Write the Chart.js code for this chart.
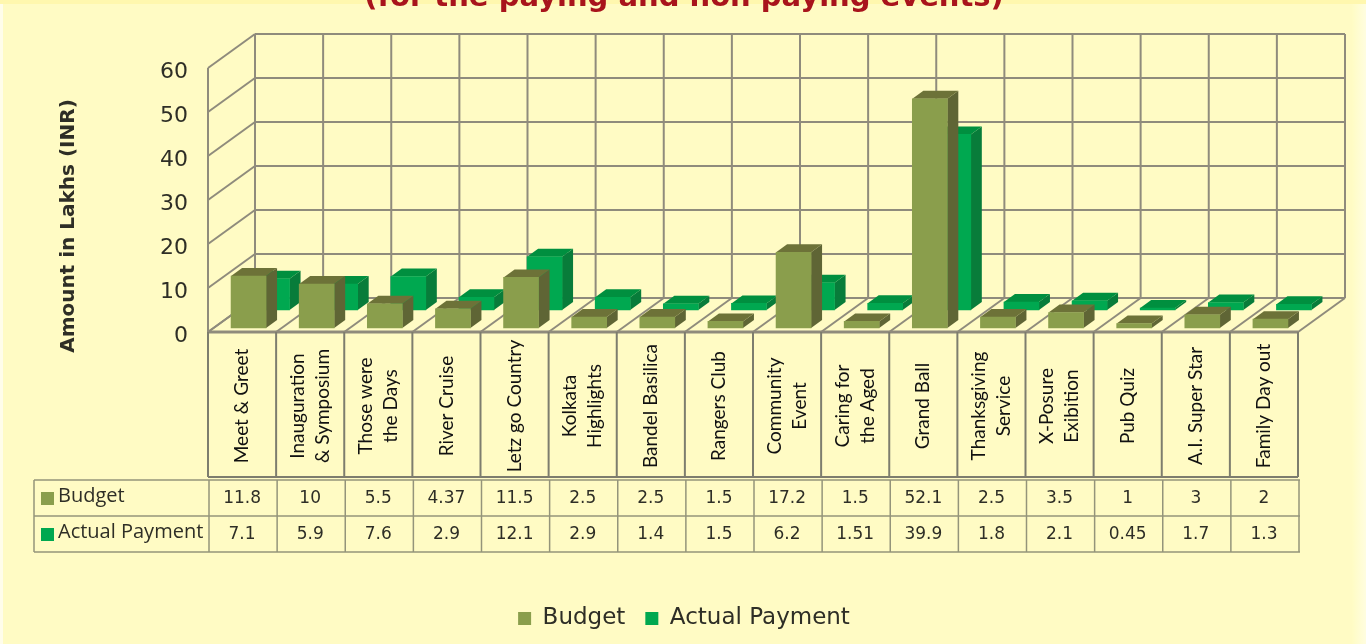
<!DOCTYPE html>
<html>
<head>
<meta charset="utf-8">
<title>Budget vs Actual Payment</title>
<script src="https://cdn.jsdelivr.net/npm/chart.js@4"></script>
<style>
  html, body { margin: 0; padding: 0; overflow: hidden; }
  body {
    background:
      linear-gradient(#fff7ae, #fff7ae) top left / 100% 4px no-repeat,
      linear-gradient(#fffdea, #fffdea) top left / 3px 100% no-repeat,
      linear-gradient(90deg, #fffcc4, #fffde0) top right / 14px 100% no-repeat,
      #fffbc4;
  }
  #grafica { display: block; }
</style>
</head>
<body>
<canvas id="grafica" width="1366" height="644"></canvas>
<script>
const categories = [
    ['Meet & Greet'], ['Inauguration', '& Symposium'], ['Those were', 'the Days'], ['River Cruise'],
    ['Letz go Country'], ['Kolkata', 'Highlights'], ['Bandel Basilica'], ['Rangers Club'],
    ['Community', 'Event'], ['Caring for', 'the Aged'], ['Grand Ball'], ['Thanksgiving', 'Service'],
    ['X-Posure', 'Exibition'], ['Pub Quiz'], ['A.I. Super Star'], ['Family Day out']
];
const budget = [11.8, 10, 5.5, 4.37, 11.5, 2.5, 2.5, 1.5, 17.2, 1.5, 52.1, 2.5, 3.5, 1, 3, 2];
const actualPayment = [7.1, 5.9, 7.6, 2.9, 12.1, 2.9, 1.4, 1.5, 6.2, 1.51, 39.9, 1.8, 2.1, 0.45, 1.7, 1.3];

const lineCol = '#8f8b7c';
const textCol = '#2e2e26';
const wallDepth = { x: 47, y: -34 };
const barDepth = { x: 11, y: -8 };

// colours for the fake 3d sides, one entry per dataset
const looks = [
    { shift: { x: 6.5, y: -4 }, top: '#6d7238', side: '#5f6535' },
    { shift: { x: 30, y: -22 }, top: '#008f3f', side: '#087c3a' }
];

function line(ctx, x1, y1, x2, y2) {
    ctx.beginPath();
    ctx.moveTo(x1, y1);
    ctx.lineTo(x2, y2);
    ctx.stroke();
}

function poly(ctx, pts, col) {
    ctx.fillStyle = col;
    ctx.beginPath();
    pts.forEach((p, i) => i ? ctx.lineTo(p[0], p[1]) : ctx.moveTo(p[0], p[1]));
    ctx.closePath();
    ctx.fill();
}

const walls3d = {
    id: 'walls3d',
    beforeDatasetsDraw(chart) {
        const { ctx, chartArea: a, scales: { y } } = chart;
        const bw = (a.right - a.left) / categories.length;
        ctx.save();
        ctx.strokeStyle = lineCol;
        ctx.lineWidth = 2;
        y.ticks.forEach(t => {
            const py = y.getPixelForValue(t.value);
            line(ctx, a.left, py, a.left + wallDepth.x, py + wallDepth.y);
            line(ctx, a.left + wallDepth.x, py + wallDepth.y, a.right + wallDepth.x, py + wallDepth.y);
        });
        for (let i = 0; i <= categories.length; i++) {
            const px = a.left + i * bw;
            line(ctx, px + wallDepth.x, a.top + wallDepth.y, px + wallDepth.x, a.bottom + wallDepth.y);
            line(ctx, px, a.bottom, px + wallDepth.x, a.bottom + wallDepth.y);
        }
        line(ctx, a.left, a.top, a.left, a.bottom);
        ctx.lineWidth = 3;
        line(ctx, a.left, a.bottom, a.right, a.bottom);
        ctx.restore();
    },
    beforeDatasetDraw(chart, args) {
        const ctx = chart.ctx;
        const look = looks[args.index];
        ctx.save();
        ctx.translate(look.shift.x, look.shift.y);
        args.meta.data.forEach(bar => {
            const l = bar.x - bar.width / 2;
            const r = bar.x + bar.width / 2;
            poly(ctx, [[r, bar.y], [r + barDepth.x, bar.y + barDepth.y], [r + barDepth.x, bar.base + barDepth.y], [r, bar.base]], look.side);
            poly(ctx, [[l, bar.y], [l + barDepth.x, bar.y + barDepth.y], [r + barDepth.x, bar.y + barDepth.y], [r, bar.y]], look.top);
        });
    },
    afterDatasetDraw(chart) {
        chart.ctx.restore();
    },
    afterDraw(chart) {
        const { ctx, chartArea: a, scales: { x } } = chart;
        const bw = (a.right - a.left) / categories.length;
        ctx.save();

        // heading, cut off by the top of the picture in the original
        ctx.fillStyle = '#a8141c';
        ctx.font = 'bold 29px "DejaVu Sans"';
        ctx.textAlign = 'center';
        ctx.textBaseline = 'alphabetic';
        ctx.fillText('(for the paying and non paying events)', 684, 6);

        // axis title
        ctx.save();
        ctx.translate(69, 226);
        ctx.rotate(-Math.PI / 2);
        ctx.fillStyle = textCol;
        ctx.font = 'bold 20px "DejaVu Sans"';
        ctx.textBaseline = 'middle';
        ctx.fillText('Amount in Lakhs (INR)', 0, 0);
        ctx.restore();

        // category boxes under the floor
        ctx.strokeStyle = '#7d7d6e';
        ctx.lineWidth = 2;
        for (let i = 0; i <= categories.length; i++) {
            line(ctx, a.left + i * bw, a.bottom, a.left + i * bw, 477);
        }
        line(ctx, a.left, 477, a.right, 477);

        ctx.fillStyle = '#111';
        ctx.font = '19px Lato';
        ctx.textBaseline = 'middle';
        categories.forEach((lines, i) => {
            const cx = x.getPixelForTick(i);
            ctx.save();
            ctx.translate(cx, 406);
            ctx.rotate(-Math.PI / 2);
            lines.forEach((txt, n) => ctx.fillText(txt, 0, (n - (lines.length - 1) / 2) * 25));
            ctx.restore();
        });

        // data table
        const top = 480, rowH = 36, tblL = 34, tblR = 1300;
        ctx.strokeStyle = '#94947a';
        ctx.lineWidth = 1.5;
        for (let r = 0; r <= 2; r++) line(ctx, tblL, top + r * rowH, tblR, top + r * rowH);
        line(ctx, tblL, top, tblL, top + 2 * rowH);
        for (let i = 0; i <= categories.length; i++) {
            const px = a.left + 1 + i * bw;
            line(ctx, px, top, px, top + 2 * rowH);
        }
        const rows = [budget, actualPayment];
        chart.data.datasets.forEach((ds, r) => {
            const cy = top + r * rowH + rowH / 2;
            ctx.fillStyle = ds.backgroundColor;
            ctx.fillRect(41, cy - 6, 13, 13);
            ctx.fillStyle = textCol;
            ctx.textAlign = 'left';
            ctx.font = '20px "Open Sans"';
            ctx.fillText(ds.label, 58, cy - 2);
            ctx.textAlign = 'center';
            ctx.font = '17px "DejaVu Sans"';
            rows[r].forEach((v, i) => ctx.fillText(String(v), x.getPixelForTick(i), cy + 1));
        });
        ctx.restore();
    }
};

const graph = document.querySelector('#grafica');

new Chart(graph, {
    type: 'bar',
    data: {
        labels: categories,
        datasets: [
            { label: 'Budget', data: budget, backgroundColor: '#8a9e4c', order: 1, clip: false },
            { label: 'Actual Payment', data: actualPayment, backgroundColor: '#00a850', order: 2, clip: false }
        ]
    },
    options: {
        responsive: false,
        animation: false,
        events: [],
        layout: { padding: { left: 70, right: 68, top: 68, bottom: 4 } },
        datasets: { bar: { grouped: false, barThickness: 35 } },
        plugins: {
            tooltip: { enabled: false },
            legend: {
                position: 'bottom',
                labels: { boxWidth: 13, boxHeight: 13, padding: 20, color: textCol, font: { size: 23, family: '"DejaVu Sans"' } }
            }
        },
        scales: {
            x: {
                grid: { display: false },
                border: { display: false },
                ticks: { display: false },
                afterFit(s) { s.height = 255; }
            },
            y: {
                min: 0,
                max: 60,
                grid: { display: false },
                border: { display: false },
                ticks: {
                    stepSize: 10,
                    padding: 12,
                    labelOffset: 4,
                    color: textCol,
                    font: { size: 22, family: '"DejaVu Sans"' }
                },
                afterFit(s) { s.width = 138; }
            }
        }
    },
    plugins: [walls3d]
});
</script>
</body>
</html>
